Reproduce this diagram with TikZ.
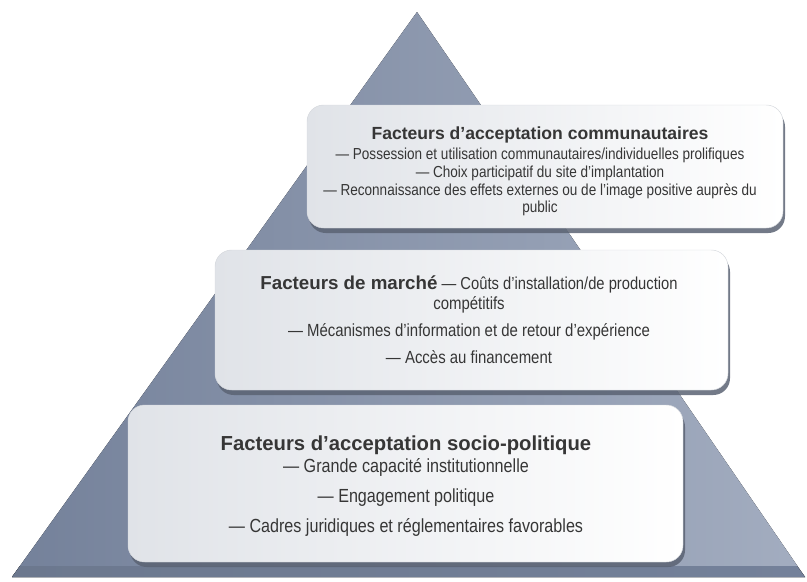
\documentclass[tikz,border=0pt]{standalone}
\usepackage{fontspec}
\setmainfont{Liberation Sans}
\newfontfamily\narrowfont{Liberation Sans}[FakeStretch=0.85]
\usetikzlibrary{positioning, fit, shadows}
\definecolor{pyrdark}{HTML}{74819A}
\definecolor{pyrlight}{HTML}{A3ADC0}
\definecolor{pyrbase}{HTML}{6C788E}
\definecolor{boxgrey}{HTML}{E0E3E8}
\definecolor{boxedge}{HTML}{D4D7DC}
\definecolor{shadowgrey}{HTML}{5B6373}
\definecolor{txtgrey}{HTML}{363636}
\tikzset{
  tier/.style={rectangle, rounded corners=0.5cm, draw=boxedge, line width=0.4pt,
               left color=boxgrey, right color=white, inner sep=0pt,
               drop shadow={shadow xshift=0.06cm, shadow yshift=-0.15cm,
                            fill=shadowgrey, opacity=0.85}},
  tiertext/.style 2 args={align=center, text=txtgrey, inner sep=0pt,
               font={\narrowfont\fontsize{#1}{#2}\selectfont\lineskiplimit=-20pt}},
}
\newcommand{\tierhead}[2]{{\fontspec{Liberation Sans}\bfseries\fontsize{#1}{#1}\selectfont #2}}

\begin{document}
\begin{tikzpicture}[x=0.03cm, y=-0.03cm]
  \useasboundingbox (0,0) rectangle (807,581);
  % pyramid and its base edge
  \fill[left color=pyrdark, right color=pyrlight] (12,577) -- (417,12) -- (805,577) -- cycle;
  \fill[left color=pyrbase, right color=pyrdark] (20,566) -- (797,566) -- (805,577) -- (12,577) -- cycle;

  % three tiers
  \node[tier, fit={(307,105) (783,228)}] (top) {};
  \node[tier, fit={(215,250) (728,390)}] (mid) {};
  \node[tier, fit={(128,405) (683,562)}] (bot) {};

  \node[tiertext={13.6}{15.5}] (toptxt) at (540,171) {%
    \tierhead{15}{Facteurs d’acceptation communautaires}\\[1.5pt]
    — Possession et utilisation communautaires/individuelles prolifiques\\
    — Choix participatif du site d’implantation\\
    — Reconnaissance des effets externes ou de l’image positive auprès du\\[-1pt]
    public};
  \node[tiertext={15}{23}] (midtxt) at (469,320) {%
    \tierhead{16}{Facteurs de marché} {\fontsize{14.8}{14.8}\selectfont — Coûts d’installation/de production}\\[-6pt]
    compétitifs\\
    — Mécanismes d’information et de retour d’expérience\\
    — Accès au financement};
  \node[tiertext={16.2}{25.5}] (bottxt) at (406,486) {%
    \tierhead{17.3}{Facteurs d’acceptation socio-politique}\\[-6pt]
    — Grande capacité institutionnelle\\
    — Engagement politique\\
    — Cadres juridiques et réglementaires favorables};
\end{tikzpicture}
\end{document}
